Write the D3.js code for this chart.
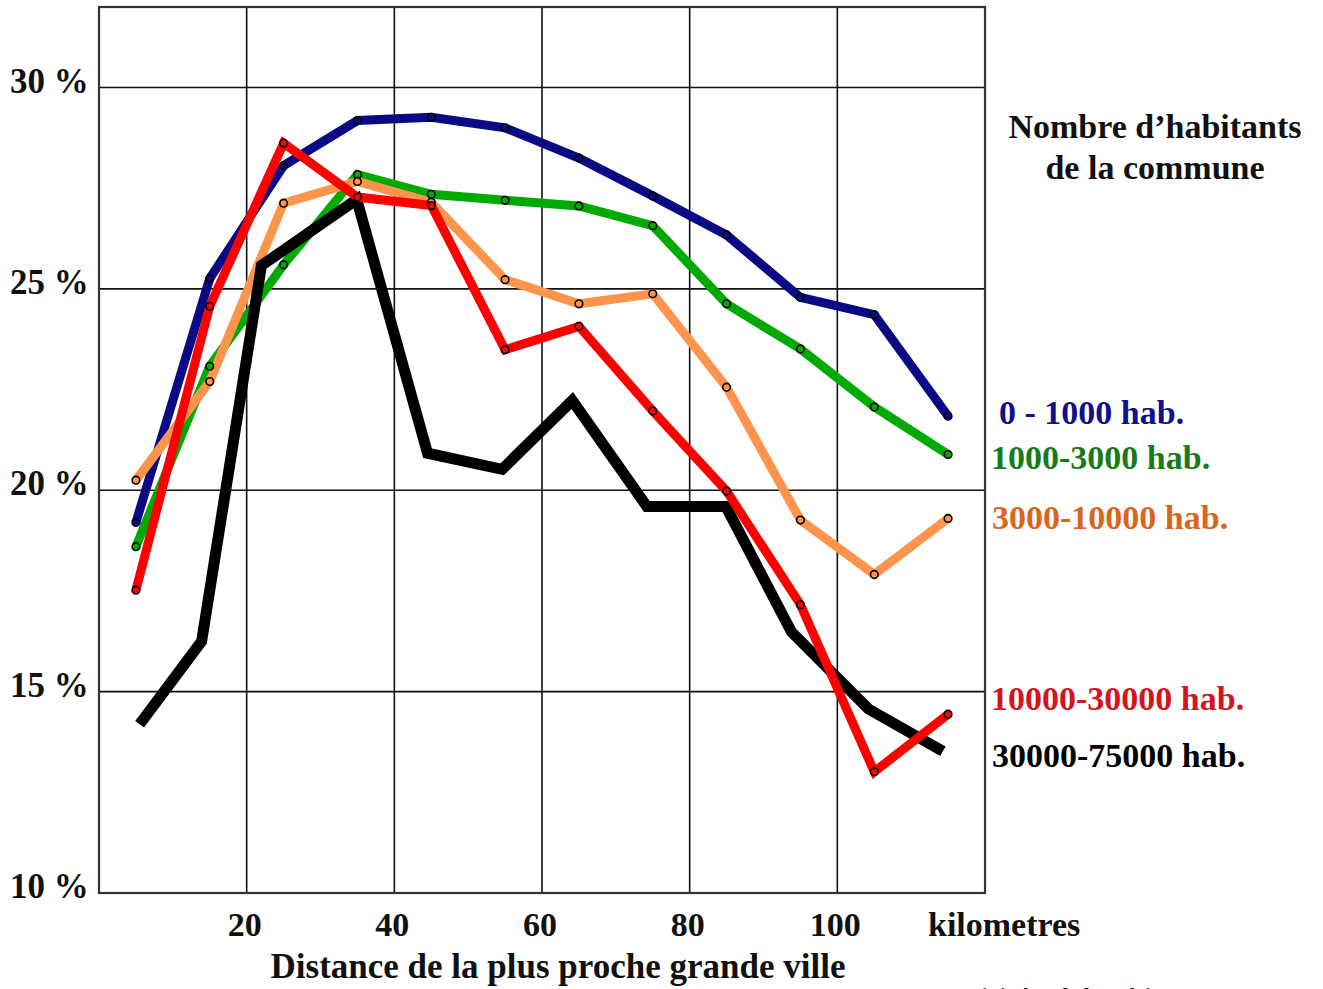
<!DOCTYPE html>
<html>
<head>
<meta charset="utf-8">
<script src="https://cdn.jsdelivr.net/npm/d3@7"></script>
<style>
  body { margin: 0; background: #fff; }
  text { font-family: "Liberation Serif", "DejaVu Serif", serif; font-weight: bold; }
</style>
</head>
<body>
<script>
// distances (km) of the plotted points
var distances = [5, 15, 25, 35, 45, 55, 65, 75, 85, 95, 105, 115];
// the black line is drawn slightly off the grid of the others
var distancesBig = [5.5, 13.9, 22, 34.9, 44.5, 54.6, 64.1, 74.2, 84.9, 93.8, 104.2, 114.3];

var xTicks = [20, 40, 60, 80, 100];
var yTicks = [10, 15, 20, 25, 30];

var labels = ["0 - 1000 hab.", "1000-3000 hab.", "3000-10000 hab.", "10000-30000 hab.", "30000-75000 hab."];

// percentages
var pop0_1000 = [19.2, 25.26, 28.06, 29.18, 29.26, 29.0, 28.25, 27.31, 26.34, 24.79, 24.36, 21.84];
var pop1000_3000 = [18.6, 23.08, 25.6, 27.84, 27.35, 27.2, 27.06, 26.57, 24.63, 23.51, 22.07, 20.89];
var pop3000_10000 = [20.25, 22.7, 27.13, 27.67, 27.15, 25.23, 24.63, 24.88, 22.56, 19.26, 17.91, 19.3];
var pop10000_30000 = [17.52, 24.57, 28.62, 27.28, 27.07, 23.49, 24.07, 21.97, 19.98, 17.16, 13.01, 14.44];
var pop30000_75000 = [14.19, 16.25, 25.58, 27.22, 20.92, 20.52, 22.23, 19.6, 19.6, 16.48, 14.57, 13.52];

window.onload = function(){

    var w = 1323, h = 989;
    var svg = d3.select("body").append("svg")
        .attr("width", w)
        .attr("height", h);

    // scales
    var x = d3.scaleLinear().domain([0, 120]).range([99, 985]);
    var y = d3.scaleLinear().domain([10, 32]).range([893, 7]);

    // grid lines
    svg.selectAll(".vgrid")
        .data(xTicks)
        .enter().append("line")
        .attr("x1", function(d){ return x(d); })
        .attr("x2", function(d){ return x(d); })
        .attr("y1", y(32)).attr("y2", y(10))
        .style("stroke", "#111").style("stroke-width", 1.6);

    svg.selectAll(".hgrid")
        .data(yTicks.slice(1))
        .enter().append("line")
        .attr("x1", x(0)).attr("x2", x(120))
        .attr("y1", function(d){ return y(d); })
        .attr("y2", function(d){ return y(d); })
        .style("stroke", "#111").style("stroke-width", 1.6);

    // frame
    svg.append("rect")
        .attr("x", x(0)).attr("y", y(32))
        .attr("width", x(120) - x(0)).attr("height", y(10) - y(32))
        .style("fill", "none").style("stroke", "#333").style("stroke-width", 2.2);

    // series
    var series = [
        { name: labels[1], xs: distances, vals: pop1000_3000, color: "#00aa00", text: "#187a18", width: 9, dots: true },
        { name: labels[0], xs: distances, vals: pop0_1000, color: "#0a0a85", text: "#10108a", width: 9, dots: true },
        { name: labels[2], xs: distances, vals: pop3000_10000, color: "#ff944c", text: "#d9651f", width: 9, dots: true },
        { name: labels[4], xs: distancesBig, vals: pop30000_75000, color: "#000000", text: "#000000", width: 11, dots: false },
        { name: labels[3], xs: distances, vals: pop10000_30000, color: "#ff0000", text: "#d4141e", width: 9, dots: true }
    ];

    var line = d3.line()
        .x(function(d){ return x(d[0]); })
        .y(function(d){ return y(d[1]); });

    series.forEach(function(s){
        var pts = s.vals.map(function(v, i){ return [s.xs[i], v]; });
        s.pts = pts;
        svg.append("path")
            .datum(pts)
            .attr("d", line)
            .style("fill", "none")
            .style("stroke", s.color)
            .style("stroke-width", s.width)
            .style("stroke-linejoin", "miter");
    });

    // point markers
    series.forEach(function(s){
        if (!s.dots) return;
        svg.selectAll(null)
            .data(s.pts)
            .enter().append("circle")
            .attr("cx", function(d){ return x(d[0]); })
            .attr("cy", function(d){ return y(d[1]); })
            .attr("r", 3.8)
            .style("fill", s.color)
            .style("stroke", "#000")
            .style("stroke-width", 1.6);
    });

    // y tick labels
    svg.selectAll(".ylab")
        .data(yTicks)
        .enter().append("text")
        .attr("x", 10)
        .attr("y", function(d){ return y(d) + 5; })
        .style("font-size", "35px")
        .style("fill", "#111")
        .text(function(d){ return d + " %"; });

    // x tick labels
    svg.selectAll(".xlab")
        .data(xTicks)
        .enter().append("text")
        .attr("x", function(d){ return x(d) - 2; })
        .attr("y", 936)
        .attr("text-anchor", "middle")
        .style("font-size", "34px")
        .style("fill", "#111")
        .text(function(d){ return d; });

    svg.append("text")
        .attr("x", 928).attr("y", 936)
        .style("font-size", "34px")
        .style("fill", "#111")
        .text("kilometres");

    svg.append("text")
        .attr("x", 558).attr("y", 978)
        .attr("text-anchor", "middle")
        .style("font-size", "35px")
        .style("fill", "#111")
        .text("Distance de la plus proche grande ville");

    svg.append("text")
        .attr("x", 878).attr("y", 1003)
        .style("font-size", "22px")
        .style("fill", "#111")
        .text("Source : Ministère de l’Intérieur");

    // legend title
    var title = svg.append("text")
        .attr("text-anchor", "middle")
        .style("font-size", "34px")
        .style("fill", "#111");
    title.append("tspan").attr("x", 1155).attr("y", 138).text("Nombre d’habitants");
    title.append("tspan").attr("x", 1155).attr("y", 179).text("de la commune");

    // legend labels next to line ends
    var legendPos = {};
    legendPos[labels[0]] = [999, 424];
    legendPos[labels[1]] = [991, 469];
    legendPos[labels[2]] = [992, 529];
    legendPos[labels[3]] = [991, 710];
    legendPos[labels[4]] = [992, 767];

    series.forEach(function(s){
        svg.append("text")
            .attr("x", legendPos[s.name][0])
            .attr("y", legendPos[s.name][1])
            .style("font-size", "34px")
            .style("fill", s.text)
            .text(s.name);
    });
};
</script>
</body>
</html>
